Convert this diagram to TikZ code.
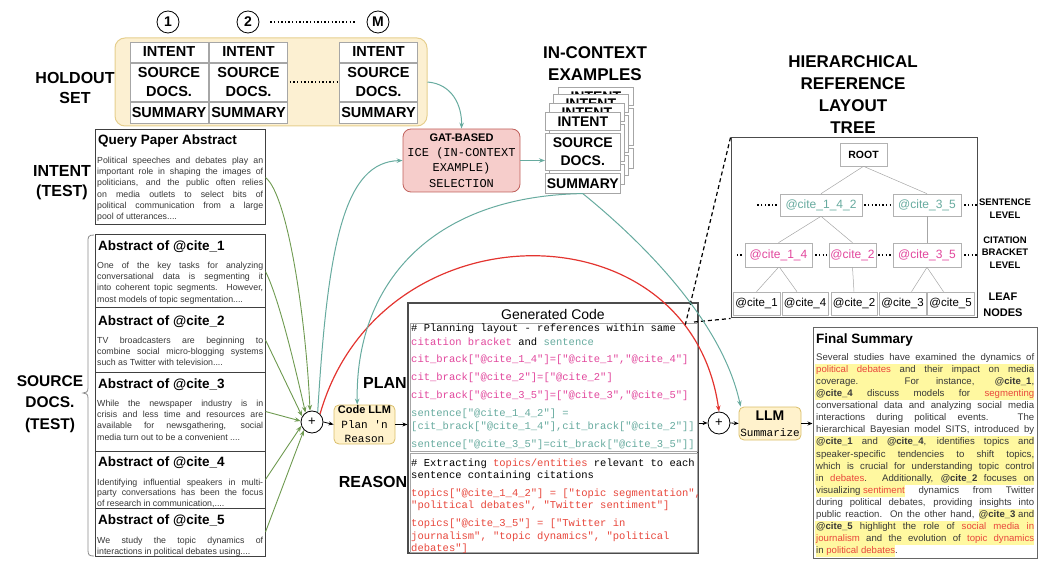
\documentclass[tikz,border=0pt]{standalone}
\usepackage{fontspec}
\setmainfont{Liberation Sans}
\setmonofont{Liberation Mono}
\usetikzlibrary{arrows.meta,calc}
\definecolor{teal1}{HTML}{67AB9F}
\definecolor{grn}{HTML}{6E9A50}
\definecolor{redc}{HTML}{E3342F}
\definecolor{pinkc}{HTML}{E2479D}
\definecolor{codered}{HTML}{E8473C}
\definecolor{yfill}{HTML}{FCF0D2}
\definecolor{ydraw}{HTML}{E6CF8E}
\definecolor{ybx}{HTML}{FFF2CC}
\definecolor{ybd}{HTML}{D9BE6A}
\definecolor{gfill}{HTML}{F6CDCB}
\definecolor{gdraw}{HTML}{C0615C}
\definecolor{hl}{HTML}{FFF8A0}
\definecolor{txt}{HTML}{383838}
\newcommand{\myfs}[2]{\fontsize{#1pt}{#2pt}\selectfont}
\newcommand{\rw}[1]{\textcolor{codered}{#1}}
\newcommand{\hl}[1]{{\setlength{\fboxsep}{0pt}\colorbox{hl}{\strut #1}}}
\hyphenpenalty=10000
\exhyphenpenalty=10000
\tolerance=10000
\hbadness=10000
\tikzset{
 biglab/.style={font=\bfseries\myfs{16}{20}, align=center, inner sep=0},
 hbox/.style={draw=black!35, fill=white, line width=0.6pt, minimum width=78pt, inner sep=0, align=center, font=\bfseries\myfs{14.5}{19}},
 cbox/.style={draw=black!35, fill=white, line width=0.6pt, minimum width=75pt, inner sep=0, align=center, font=\bfseries\myfs{14}{18}, anchor=north west},
 tnode/.style={draw=black!30, fill=white, line width=0.6pt, inner sep=0, minimum height=23pt, font=\myfs{12}{14}},
 tedge/.style={draw=black!35, line width=0.5pt},
 dotl/.style={line width=1.6pt, dash pattern=on 1.4pt off 2.2pt},
 absbox/.style={draw=black!75, line width=1pt, fill=white, minimum width=170pt, inner sep=0},
 abst/.style={anchor=base west, inner sep=0, font=\bfseries\myfs{13.5}{16}},
 absb/.style={anchor=north west, inner sep=0, text width=166pt, align=justify, font=\myfs{8.8}{11.3}, text=txt},
 garr/.style={draw=grn, line width=0.9pt, -{Stealth[length=6pt,width=4.5pt]}},
 tarr/.style={draw=teal1, line width=1pt, -{Stealth[length=6pt,width=4.5pt]}},
 barr/.style={draw=black, line width=0.8pt, -{Stealth[length=5pt,width=4pt]}},
 cline/.style={anchor=base west, inner sep=0, font=\ttfamily\myfs{10.5}{12}},
 plusc/.style={circle, draw=black, line width=0.8pt, fill=white, minimum size=22pt, inner sep=0, font=\myfs{13}{13}},
 ybox/.style={draw=ybd, fill=ybx, rounded corners=5pt, line width=0.8pt, inner sep=0, align=center},
 numc/.style={circle, draw=black, line width=0.8pt, minimum size=22pt, inner sep=0, font=\bfseries\myfs{14}{14}},
 lvl/.style={font=\bfseries\myfs{9.5}{12.5}, align=center, inner sep=0},
}
\begin{document}
\begin{tikzpicture}[x=1pt,y=-1pt]
\useasboundingbox (0,0) rectangle (1044,569);

% ---------- holdout set ----------
\node[numc] (n1) at (168,22) {1};
\node[numc] (n2) at (248,22) {2};
\node[numc] (nM) at (378,22) {M};
\draw[dotl] ([xshift=11pt]n2.east) -- ([xshift=-12pt]nM.west);
\node[draw=ydraw, fill=yfill, rounded corners=10pt, line width=1pt, minimum width=312pt, minimum height=88pt, inner sep=0] (hold) at (271,82) {};
\foreach \n/\cx in {1/169, 2/248.5, M/378.5} {
  \node[hbox, minimum height=20pt] (h\n i) at (\cx,52) {INTENT};
  \node[hbox, minimum height=38pt] (h\n s) at (\cx,82) {SOURCE\\DOCS.};
  \node[hbox, minimum height=21pt] (h\n m) at (\cx,112.5) {SUMMARY};
}
\draw[dotl] ([xshift=2pt]h2s.east) -- ([xshift=-2pt]hMs.west);
\node[biglab] (lho) at (75,88) {HOLDOUT\\SET};

% ---------- in-context examples ----------
\node[biglab, font=\bfseries\myfs{17}{22}] (lice) at (595,64) {IN-CONTEXT\\EXAMPLES};
\foreach \i/\cx/\cy in {3/558/87, 2/553/94, 1/549/103} {
  \node[cbox, minimum height=18pt] (ci\i) at (\cx,\cy) {INTENT};
  \node[cbox, minimum height=37pt] (cs\i) at (\cx,\cy+21) {};
  \node[cbox, minimum height=20pt] (cm\i) at (\cx,\cy+61) {};
}
\node[cbox, minimum height=18pt] (ci0) at (545,112) {INTENT};
\node[cbox, minimum height=37pt] (cs0) at (545,133) {SOURCE\\DOCS.};
\node[cbox, minimum height=20pt] (cm0) at (545,173) {SUMMARY};

% ---------- GAT ----------
\node[draw=gdraw, fill=gfill, rounded corners=8pt, line width=0.8pt, minimum width=117pt, minimum height=63pt, inner sep=0, align=center, font=\myfs{12}{15.3}] (gat) at (461.5,160.5)
 {{\bfseries\myfs{11}{15.3}GAT-BASED}\\{\ttfamily ICE (IN-CONTEXT}\\{\ttfamily EXAMPLE)}\\{\ttfamily SELECTION}};
\draw[tarr] (hold.east) .. controls (452,84) and (462,105) .. (gat.north);
\draw[tarr] (gat.east) -- (gat.east -| cs0.west);

% ---------- query abstract ----------
\node[biglab] (lint) at (62,183) {INTENT\\(TEST)};
\node[absbox, minimum height=95pt] (qa) at (180,177.5) {};
\node[abst] (qat) at (98,145) {Query Paper Abstract};
\node[absb] (qab) at (97,155.1) {\strut Political speeches and debates play an\linebreak important role in shaping the images of\linebreak politicians, and the public often relies\linebreak on media outlets to select bits of\linebreak political communication from a large\linebreak pool of utterances....};

% ---------- source docs ----------
\node[biglab, font=\bfseries\myfs{15.5}{21.5}] (lsrc) at (50,404) {SOURCE\\DOCS.\\(TEST)};
\draw[black!45, line width=0.8pt] (94,235) .. controls (88,235) and (88,237) .. (88,242) -- (88,388) .. controls (88,392) and (86,393) .. (83,393) .. controls (86,393) and (88,394) .. (88,398) -- (88,550) .. controls (88,555) and (89,556) .. (94,556);
\node[absbox, minimum height=73pt] (c1) at (180,271.5) {};
\node[abst] (c1t) at (98,250.8) {Abstract of @cite\_1};
\node[absb] (c1b) at (97,260) {\strut One of the key tasks for analyzing\linebreak conversational data is segmenting it\linebreak into coherent topic segments. However,\linebreak most models of topic segmentation....};
\node[absbox, minimum height=64pt] (c2) at (180,340) {};
\node[abst] (c2t) at (98,325.8) {Abstract of @cite\_2};
\node[absb] (c2b) at (97,335) {\strut TV broadcasters are beginning to\linebreak combine social micro-blogging systems\linebreak such as Twitter with television....};
\node[absbox, minimum height=79pt] (c3) at (180,411.5) {};
\node[abst] (c3t) at (98,388.8) {Abstract of @cite\_3};
\node[absb] (c3b) at (97,398) {\strut While the newspaper industry is in\linebreak crisis and less time and resources are\linebreak available for newsgathering, social\linebreak media turn out to be a convenient ....};
\node[absbox, minimum height=57pt] (c4) at (180,479.5) {};
\node[abst] (c4t) at (98,466.8) {Abstract of @cite\_4};
\node[absb, font=\myfs{8.8}{10.8}] (c4b) at (97,477.3) {\strut Identifying influential speakers in multi-\linebreak party conversations has been the focus\linebreak of research in communication,....};
\node[absbox, minimum height=48pt] (c5) at (180,532) {};
\node[abst] (c5t) at (98,524.8) {Abstract of @cite\_5};
\node[absb] (c5b) at (97,535) {\strut We study the topic dynamics of\linebreak interactions in political debates using....};

% ---------- plus 1, code LLM ----------
\node[plusc] (p1) at (312,422) {+};
\draw[garr] (qa.east) .. controls (288,195) and (306,320) .. (p1.100);
\draw[garr] (c1.east) .. controls (280,300) and (298,380) .. (p1.125);
\draw[garr] (c2.east) -- (p1.150);
\draw[garr] (c3.east) -- (p1.175);
\draw[garr] (c4.east) -- (p1.200);
\draw[garr] (c5.east) -- (p1.225);
\draw[tarr] (p1.60) .. controls (328,240) and (345,162) .. (gat.west);

\node[ybox, minimum width=61pt, minimum height=39pt, font=\myfs{11}{14.5}] (cllm) at (364.5,424.5) {{\bfseries Code LLM}\\{\ttfamily Plan 'n}\\{\ttfamily Reason}};
\node[biglab] (lplan) at (385,383) {PLAN};
\node[biglab] (lreas) at (373,482) {REASON};
\draw[barr] (p1.east) -- (cllm.west);

% ---------- generated code ----------
\node[draw=black!70, line width=1.2pt, minimum width=290pt, minimum height=250pt, inner sep=0, fill=white] (code) at (553,428) {};
\node[inner sep=0, font=\myfs{14}{16}] (cgt) at (553,314) {Generated Code};
\node[draw=black!35, line width=0.8pt, minimum width=287pt, minimum height=128pt, inner sep=0] (cb1) at (553.5,387) {};
\node[draw=black!35, line width=0.8pt, minimum width=287pt, minimum height=99pt, inner sep=0] (cb2) at (553.5,502.5) {};
\draw[barr] (cllm.east) -- (cllm.east -| code.west);
\begin{scope}
\clip (cb1.north west) rectangle (cb2.south east);
\node[cline] (k1) at (411,331) {\# Planning layout - references within same};
\node[cline] (k2) at (411,345) {\textcolor{pinkc}{citation bracket} and \textcolor{teal1}{sentence}};
\node[cline, text=pinkc] (k3) at (411,362) {cit\_brack["@cite\_1\_4"]=["@cite\_1","@cite\_4"]};
\node[cline, text=pinkc] (k4) at (411,380) {cit\_brack["@cite\_2"]=["@cite\_2"]};
\node[cline, text=pinkc] (k5) at (411,398) {cit\_brack["@cite\_3\_5"]=["@cite\_3","@cite\_5"]};
\node[cline, text=teal1] (k6) at (411,416) {sentence["@cite\_1\_4\_2"] =};
\node[cline, text=teal1] (k7) at (411,429) {[cit\_brack["@cite\_1\_4"],cit\_brack["@cite\_2"]]};
\node[cline, text=teal1] (k8) at (411,447) {sentence["@cite\_3\_5"]=cit\_brack["@cite\_3\_5"]]};
\node[cline] (k9) at (411,466) {\# Extracting \textcolor{codered}{topics/entities} relevant to each};
\node[cline] (k10) at (411,478) {sentence containing citations};
\node[cline, text=codered] (k11) at (411,496) {topics["@cite\_1\_4\_2"] = ["topic segmentation",};
\node[cline, text=codered] (k12) at (411,508) {"political debates", "Twitter sentiment"]};
\node[cline, text=codered] (k13) at (411,526) {topics["@cite\_3\_5"] = ["Twitter in};
\node[cline, text=codered] (k14) at (411,539) {journalism", "topic dynamics", "political};
\node[cline, text=codered] (k15) at (411,551) {debates"]};
\end{scope}

% ---------- tree ----------
\node[biglab, font=\bfseries\myfs{17}{22}] (ltree) at (853,95) {HIERARCHICAL\\REFERENCE\\LAYOUT\\TREE};
\node[draw=black!70, line width=1pt, minimum width=246pt, minimum height=180pt, inner sep=0] (tree) at (854,228) {};
\node[tnode, minimum width=47pt, font=\bfseries\myfs{10.5}{12}] (root) at (863.5,154.5) {ROOT};
\node[tnode, minimum width=82pt, minimum height=22pt, text=teal1] (s1) at (821,205) {@cite\_1\_4\_2};
\node[tnode, minimum width=68pt, minimum height=22pt, text=teal1] (s2) at (927,205) {@cite\_3\_5};
\node[tnode, minimum width=67pt, minimum height=24pt, text=pinkc] (b1) at (778.5,255) {@cite\_1\_4};
\node[tnode, minimum width=47pt, minimum height=24pt, text=pinkc] (b2) at (852.5,255) {@cite\_2};
\node[tnode, minimum width=68pt, minimum height=24pt, text=pinkc] (b3) at (927,255) {@cite\_3\_5};
\node[tnode, minimum width=47pt, font=\myfs{11.5}{13}] (l1) at (756.5,303.5) {@cite\_1};
\node[tnode, minimum width=46pt, font=\myfs{11.5}{13}] (l4) at (805,303.5) {@cite\_4};
\node[tnode, minimum width=46pt, font=\myfs{11.5}{13}] (l2) at (854,303.5) {@cite\_2};
\node[tnode, minimum width=47pt, font=\myfs{11.5}{13}] (l3) at (902.5,303.5) {@cite\_3};
\node[tnode, minimum width=47pt, font=\myfs{11.5}{13}] (l5) at (950.5,303.5) {@cite\_5};
\draw[tedge] (root.south) -- (s1.north);
\draw[tedge] (root.south) -- (s2.north);
\draw[tedge] (s1.south) -- (b1.north);
\draw[tedge] (s1.south) -- (b2.north);
\draw[tedge] (s2.south) -- (b3.north);
\draw[tedge] (b1.south) -- (l1.north);
\draw[tedge] ([xshift=1pt]b1.south) -- ([xshift=-8pt]l4.north);
\draw[tedge] (b2.south) -- (l2.north);
\draw[tedge] (b3.south) -- ([xshift=9pt]l3.north);
\draw[tedge] (b3.south) -- ([xshift=-7pt]l5.north);
\draw[dotl] ([xshift=-3pt]s1.west) -- ([xshift=-23pt]s1.west);
\draw[dotl] ([xshift=2pt]s1.east) -- ([xshift=-2pt]s2.west);
\draw[dotl] ([xshift=3pt]s2.east) -- ([xshift=16pt]s2.east);
\draw[dotl] ([xshift=-3pt]b1.west) -- ([xshift=-10pt]b1.west);
\draw[dotl] ([xshift=3pt]b1.east) -- ([xshift=-2pt]b2.west);
\draw[dotl] ([xshift=2pt]b2.east) -- ([xshift=-2pt]b3.west);
\draw[dotl] ([xshift=3pt]b3.east) -- ([xshift=16pt]b3.east);
\node[lvl] (lsl) at (1005,208.5) {SENTENCE\\LEVEL};
\node[lvl] (lcl) at (1005,252.5) {CITATION\\BRACKET\\LEVEL};
\node[lvl, font=\bfseries\myfs{11}{16}] (lln) at (1003,305) {LEAF\\NODES};
\coordinate (zc1) at (685,326);
\coordinate (zc2) at (694,322);
\draw[line width=1.2pt, dash pattern=on 4pt off 3pt] (tree.north west) -- (zc1);
\draw[line width=1.2pt, dash pattern=on 4pt off 3pt] (zc2) -- (tree.south west);

% ---------- plus 2, LLM ----------
\node[plusc] (p2) at (719,423) {+};
\node[ybox, minimum width=62pt, minimum height=33pt, font=\myfs{11}{16}] (llm) at (770,423.5) {{\bfseries\myfs{14}{16}LLM}\\{\ttfamily Summarize}};
\draw[barr] (p2.west -| code.east) -- (p2.west);
\draw[barr] (p2.east) -- (llm.west);

% ---------- curves ----------
\draw[draw=redc, line width=1.2pt, -{Stealth[length=6pt,width=4.5pt]}] (p1.45) .. controls (380,204) and (690,204) .. (p2.north);
\draw[tarr] (cm0.south) .. controls (430,196) and (355,285) .. (cllm.110);
\draw[tarr] (cm0.south) .. controls (640,240) and (722,320) .. ([xshift=2pt]llm.north west);

% ---------- final summary ----------
\node[draw=black!60, line width=1pt, minimum width=224pt, minimum height=231pt, inner sep=0] (fs) at (925,442.5) {};
\fill[hl] (815,363.96) rectangle (1034,400.14);
\fill[hl] (815,436.3) rectangle (1034,484.54);
\fill[hl] (815,520.7) rectangle (1034,544.8);
\node[abst] (fst) at (816,343) {Final Summary};
\node[anchor=north west, inner sep=0, text width=218pt, align=justify, font=\myfs{9.6}{12.06}, text=txt] (fsb) at (816,351.9) {\strut Several studies have examined the dynamics of\linebreak
\rw{political debates} and their impact on media\linebreak
coverage. For instance, \textbf{@cite\_1},\linebreak
\textbf{@cite\_4} discuss models for \rw{segmenting}\linebreak
conversational data and analyzing social media\linebreak
interactions during political events. The\linebreak
hierarchical Bayesian model SITS, introduced by\linebreak
\textbf{@cite\_1} and \textbf{@cite\_4}, identifies topics and\linebreak
speaker-specific tendencies to shift topics,\linebreak
which is crucial for understanding topic control\linebreak
in \rw{debates}. Additionally, \textbf{@cite\_2} focuses on\linebreak
\hl{visualizing \rw{sentiment}} dynamics from Twitter\linebreak
during political debates, providing insights into\linebreak
public reaction. On the other hand, \hl{\textbf{@cite\_3} and}\linebreak
\textbf{@cite\_5} highlight the role of \rw{social media in}\linebreak
\rw{journalism} and the evolution of \rw{topic dynamics}\linebreak
\hl{in \rw{political debates}}.};
\draw[barr] (llm.east) -- (llm.east -| fs.west);
\end{tikzpicture}
\end{document}
